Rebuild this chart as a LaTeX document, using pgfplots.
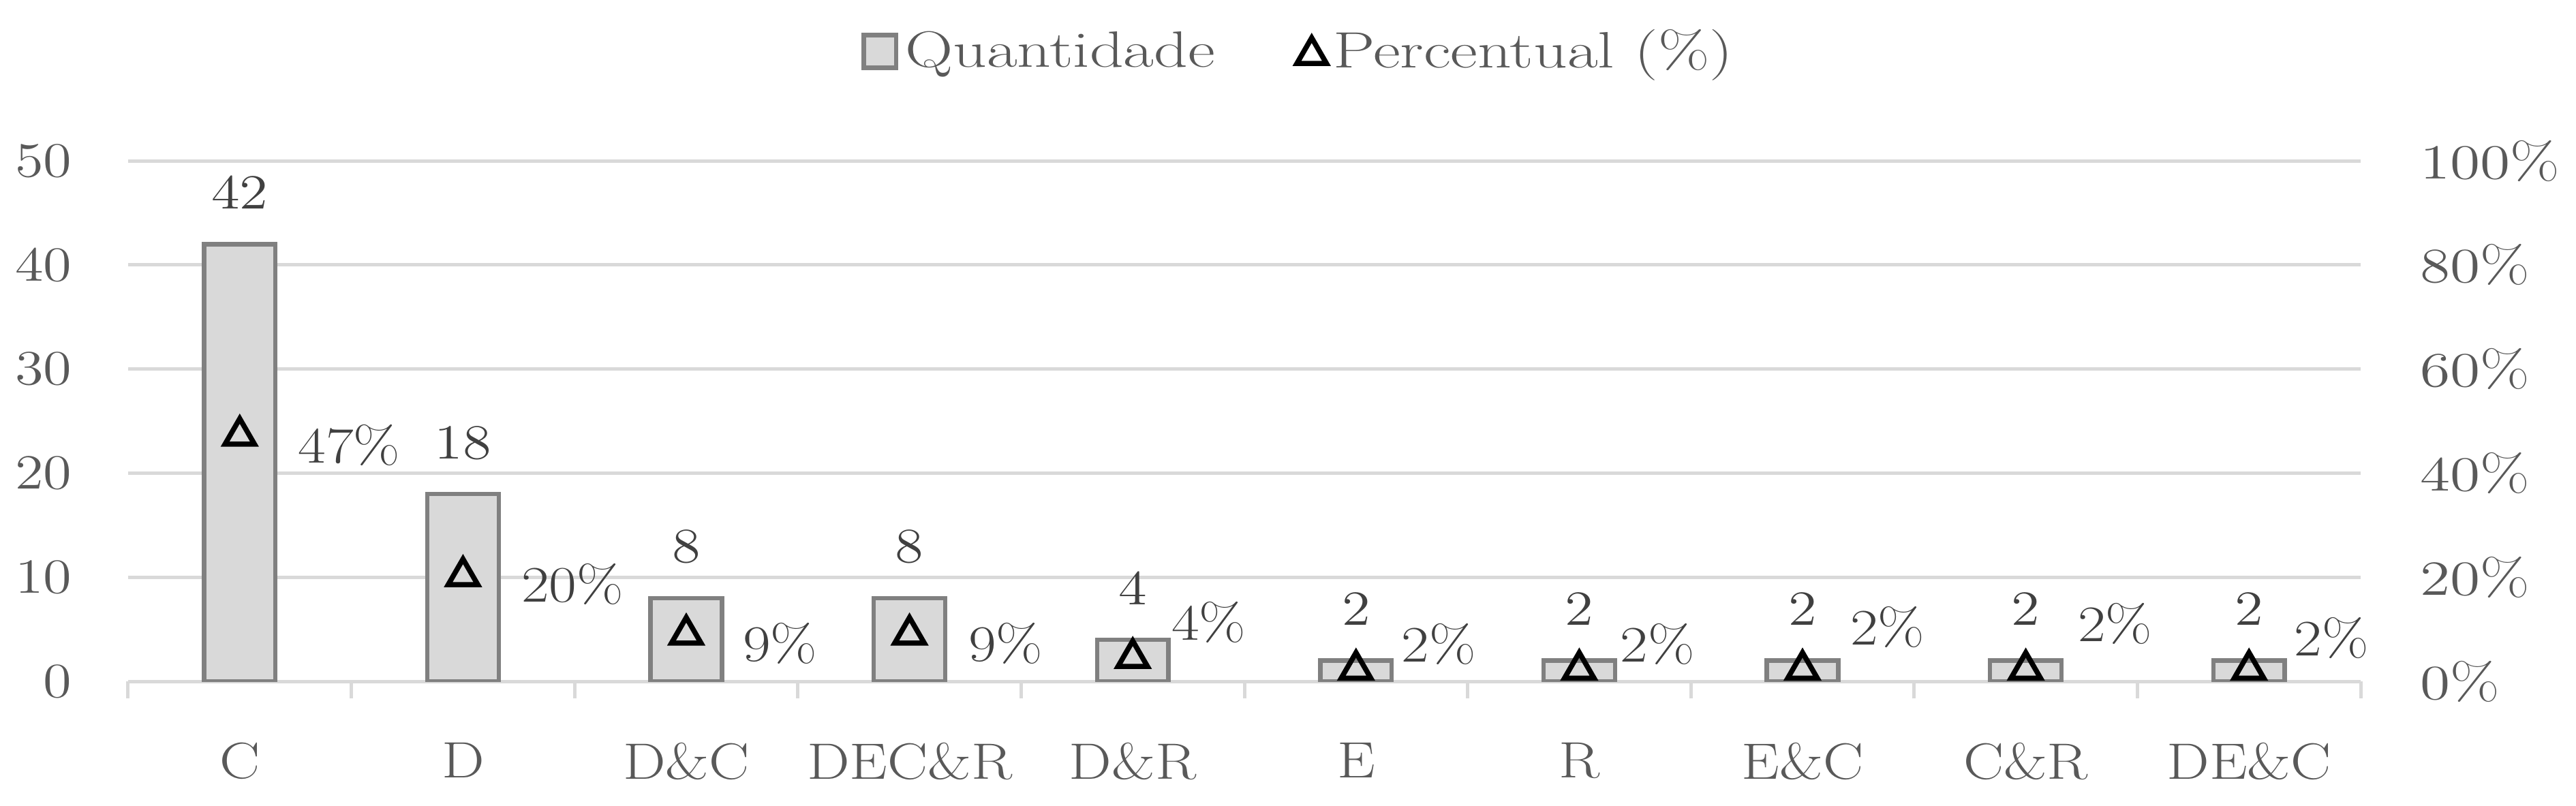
\documentclass[border=0pt]{standalone}
\usepackage{graphicx}
\usepackage{pgfplots}
\pgfplotsset{compat=1.18}
\definecolor{gridc}{HTML}{D9D9D9}
\definecolor{barfill}{HTML}{D9D9D9}
\definecolor{baredge}{HTML}{808080}
\definecolor{tickc}{HTML}{595959}
\definecolor{labc}{HTML}{404040}
\newcommand{\cf}{\fontsize{15}{18}\selectfont}
\newcommand{\sx}[1]{\scalebox{1.18}[1]{#1}}
\newcommand{\slg}[1]{\scalebox{1.3}[1]{#1}}
\pgfplotsset{trilegend/.style={legend image code/.code={\draw[##1] plot coordinates {(5pt,-1pt)};}}}
\begin{document}
\begin{tikzpicture}
\useasboundingbox (-37.6pt,-36.4pt) rectangle (718.4pt,200pt);
\begin{axis}[
  scale only axis, width=655.2pt, height=152.8pt,
  at={(0pt,0pt)}, anchor=south west,
  xmin=-0.5, xmax=9.5, ymin=0, ymax=50,
  axis lines*=left,
  x axis line style={gridc, line width=1pt, -},
  y axis line style={draw=none},
  xtick={0,...,9},
  xticklabels={\sx{C},\sx{D},\sx{D\&C},\sx{DEC\&R},\sx{D\&R},\sx{E},\sx{R},\sx{E\&C},\sx{C\&R},\sx{DE\&C}},
  minor xtick={-0.5,0.5,...,9.5},
  major tick length=0pt, minor tick length=5pt,
  tick align=outside,
  minor x tick style={gridc, line width=1pt},
  ytick={0,10,...,50},
  yticklabel={\sx{\pgfmathprintnumber{\tick}}},
  ytick style={draw=none},
  ymajorgrids, major grid style={gridc, line width=1pt},
  tick label style={font=\cf, text=tickc},
  yticklabel style={xshift=-13pt},
  xticklabel style={yshift=-14.5pt},
]
\addplot[ybar, bar width=0.32, fill=barfill, draw=baredge, line width=1.3pt,
  nodes near coords={\sx{\pgfmathprintnumber{\pgfplotspointmeta}}},
  nodes near coords style={font=\cf, text=labc, anchor=center, yshift=15pt}]
  coordinates {(0,42) (1,18) (2,8) (3,8) (4,4) (5,2) (6,2) (7,2) (8,2) (9,2)};
\end{axis}
\begin{axis}[
  scale only axis, width=655.2pt, height=152.8pt,
  at={(0pt,0pt)}, anchor=south west,
  xmin=-0.5, xmax=9.5, ymin=0, ymax=100,
  axis y line*=right, axis x line=none,
  y axis line style={draw=none},
  ytick={0,20,...,100},
  yticklabel={\scalebox{1.25}[1]{\pgfmathprintnumber{\tick}\%}},
  ytick style={draw=none},
  major tick length=0pt,
  tick label style={font=\cf, text=tickc},
  yticklabel style={anchor=west, xshift=14pt},
  clip=false,
  legend style={draw=none, fill=none, at={(0.3285,1.21)}, anchor=west,
    inner sep=0pt, outer sep=0pt,
    font=\cf, text=tickc, legend columns=2,
    /tikz/every even column/.append style={column sep=22pt}},
]
\addlegendimage{legend image code/.code={\draw[fill=barfill, draw=baredge, line width=1.3pt] (0pt,-4.8pt) rectangle (9.5pt,4.8pt);}}
\addlegendentry{\slg{Quantidade}}
\addplot[only marks, mark=triangle, mark size=5pt,
  mark options={line width=1.5pt, draw=black, fill=white}, trilegend]
  coordinates {(0,47.19) (1,20.22) (2,8.99) (3,8.99) (4,4.49) (5,2.25) (6,2.25) (7,2.25) (8,2.25) (9,2.25)};
\addlegendentry{\slg{Percentual (\%)}}
\addplot[forget plot, draw=none, mark=none, nodes near coords={\sx{\pgfplotspointmeta}}, point meta=explicit symbolic,
  nodes near coords style={font=\cf, text=labc, anchor=center}]
  coordinates {(0.49,45.3) [47\%] (1.49,18.6) [20\%] (2.42,7.3) [9\%] (3.43,7.3) [9\%]
    (4.34,11.3) [4\%] (5.37,7.1) [2\%] (6.35,7.1) [2\%] (7.38,10.4) [2\%] (8.40,11.0) [2\%] (9.37,8.3) [2\%]};
\end{axis}
\end{tikzpicture}
\end{document}
